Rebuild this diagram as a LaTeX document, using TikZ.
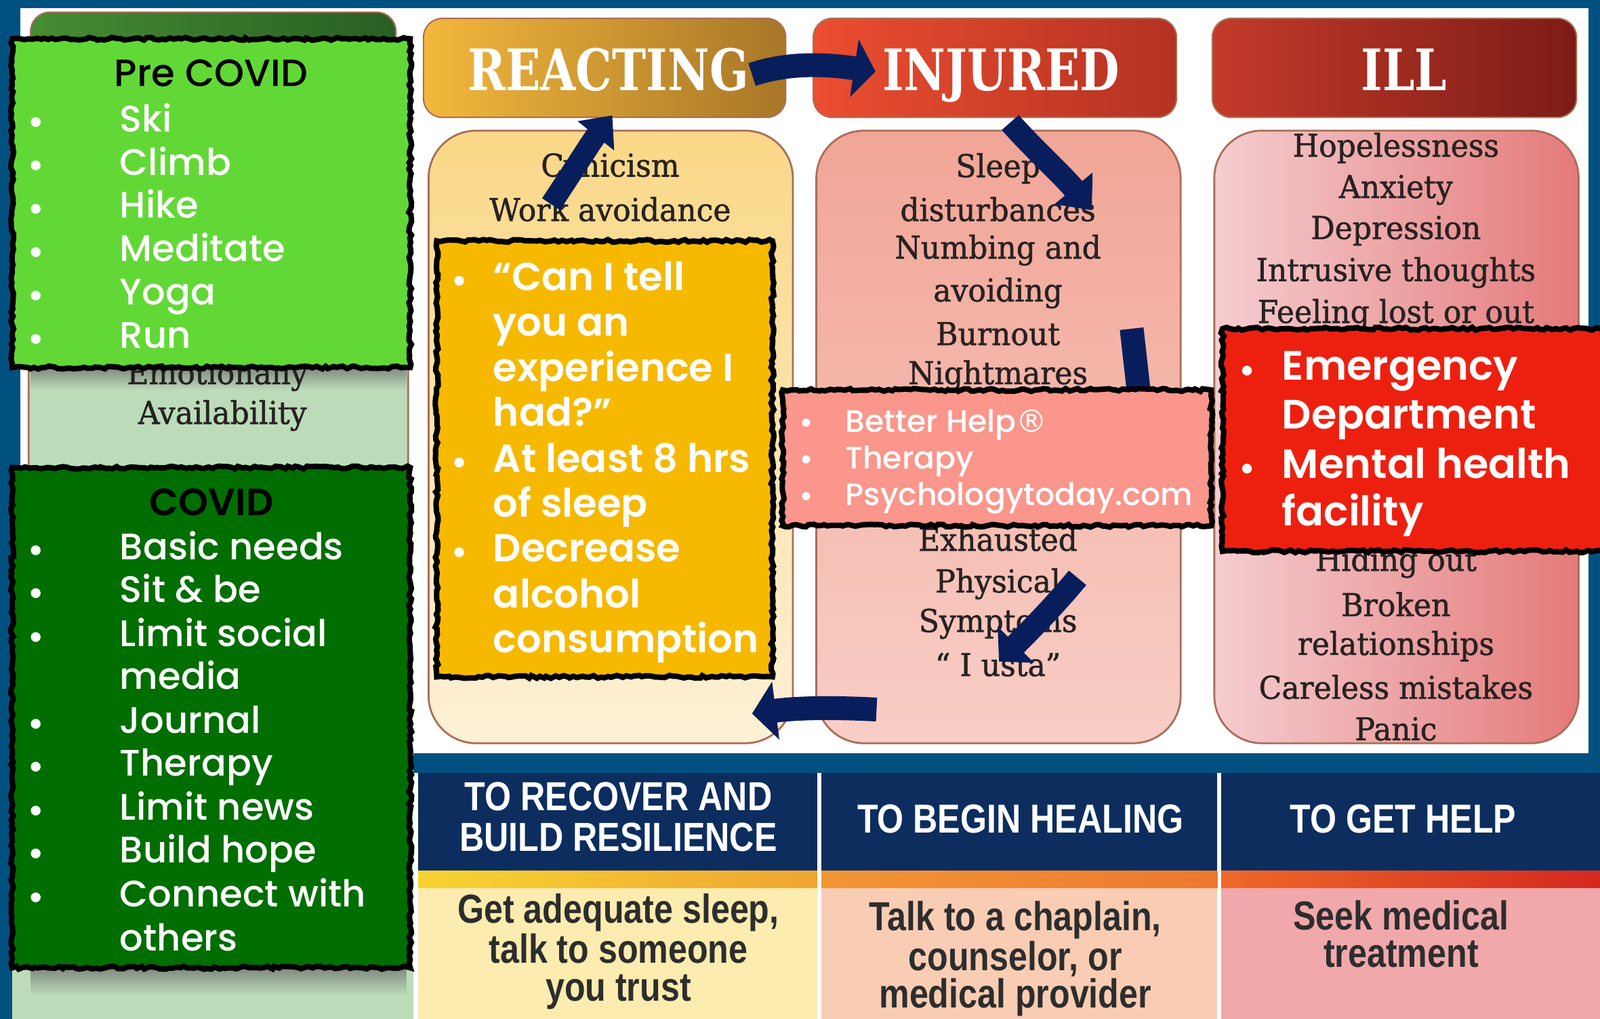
\documentclass[tikz,border=0pt]{standalone}
\usepackage{fontspec}
\setmainfont{Poppins}
\newfontfamily\medfont{Poppins Medium}
\newfontfamily\semifont{Poppins SemiBold}
\newfontfamily\slabfont[FakeStretch=0.8]{DejaVu Serif}
\newfontfamily\symfont[FakeStretch=0.95,FakeBold=1.2]{DejaVu Serif}
\newfontfamily\condfont[FakeStretch=0.84]{Liberation Sans}
\newfontfamily\signfont{DejaVu Sans}
\newcommand\regmark{{\signfont ®}}
\usetikzlibrary{arrows.meta,decorations.pathmorphing,positioning}

\definecolor{frameblue}{RGB}{0,80,128}
\definecolor{sage}{RGB}{188,220,185}
\definecolor{greenheadL}{RGB}{70,140,50}
\definecolor{greenheadR}{RGB}{40,95,35}
\definecolor{precovid}{RGB}{98,216,54}
\definecolor{covid}{RGB}{0,110,0}
\definecolor{goldbox}{RGB}{246,185,0}
\definecolor{salmonbox}{RGB}{250,150,139}
\definecolor{redbox}{RGB}{237,32,16}
\definecolor{reactL}{RGB}{243,184,60}
\definecolor{reactR}{RGB}{168,118,40}
\definecolor{injL}{RGB}{236,78,48}
\definecolor{injR}{RGB}{180,50,34}
\definecolor{illL}{RGB}{196,58,42}
\definecolor{illR}{RGB}{124,28,22}
\definecolor{reactTop}{RGB}{250,216,135}
\definecolor{reactBot}{RGB}{253,240,214}
\definecolor{injTop}{RGB}{241,165,150}
\definecolor{injBot}{RGB}{248,206,198}
\definecolor{illbodyL}{RGB}{245,205,208}
\definecolor{illbodyR}{RGB}{228,122,122}
\definecolor{bodyedge}{RGB}{170,110,90}
\definecolor{navy}{RGB}{8,30,92}
\definecolor{tabnavy}{RGB}{12,45,94}
\definecolor{tabyellow}{RGB}{253,236,175}
\definecolor{tabpeach}{RGB}{248,205,180}
\definecolor{tabpink}{RGB}{241,168,171}
\definecolor{stripA}{RGB}{247,212,50}
\definecolor{stripB}{RGB}{240,165,50}
\definecolor{stripC}{RGB}{243,150,52}
\definecolor{stripD}{RGB}{238,120,48}
\definecolor{stripE}{RGB}{238,105,40}
\definecolor{stripF}{RGB}{212,40,32}
\definecolor{symtext}{RGB}{40,34,34}
\definecolor{tabtext}{RGB}{45,45,45}

\begin{document}
\begin{tikzpicture}[x=0.15057mm,y=-0.15057mm,
  rough/.style={draw=black,line width=2.3pt,decorate,
    decoration={random steps,segment length=1.6pt,amplitude=0.6pt}},
  head/.style={rounded corners=2.8mm,draw=bodyedge,line width=0.6pt},
  body/.style={rounded corners=7mm,draw=bodyedge,line width=0.8pt},
  stage/.style={font=\slabfont\bfseries\fontsize{24}{24}\selectfont,text=white,
    text height=17.5pt,text depth=0pt},
  sym/.style={font=\symfont\fontsize{13.2}{13.2}\selectfont,text=symtext,inner sep=0},
  listtxt/.style={anchor=west,inner sep=0,text height=12pt,text depth=4pt,text=white},
  tabhead/.style={font=\condfont\bfseries\fontsize{17}{17.1}\selectfont,text=white,align=center},
  tabbody/.style={font=\condfont\bfseries\fontsize{17}{15.8}\selectfont,text=tabtext,align=center},
  flow/.style={draw=navy,line width=10pt}]
  \useasboundingbox (0,0) rectangle (1568,998);

  % Frame and panel
  \fill[frameblue] (0,0) rectangle (1568,998);
  \fill[white] (20,8) rectangle (1557,738);

  % Green column (behind the boxes)
  \shade[head,left color=greenheadL,right color=greenheadR] (30,12) rectangle (388,115);
  \filldraw[body,fill=sage] (28,128) rectangle (400,1100);
  \fill[sage] (12,738) rectangle (405,998);
  \shade[top color=black!60,bottom color=sage,opacity=0.7] (30,360) rectangle (398,382);
  \shade[top color=black!60,bottom color=sage,opacity=0.7] (30,948) rectangle (398,975);
  \node[sym] (emo) at (213,368) {Emotionally};
  \node[sym] (avail) at (218,407) {Availability};

  % Stage headers
  \shadedraw[head,left color=reactL,right color=reactR] (415,18) rectangle (770,115);
  \shadedraw[head,left color=injL,right color=injR] (797,18) rectangle (1153,115);
  \shadedraw[head,left color=illL,right color=illR] (1188,18) rectangle (1545,115);
  \node[stage] (reacting) at (596,68) {REACTING};
  \node[stage] (injured) at (981,68) {INJURED};
  \node[stage] (ill) at (1376,68) {ILL};

  % Stage bodies
  \shadedraw[body,top color=reactTop,bottom color=reactBot] (420,128) rectangle (777,728);
  \shadedraw[body,top color=injTop,bottom color=injBot] (800,128) rectangle (1157,728);
  \shadedraw[body,left color=illbodyL,right color=illbodyR] (1190,128) rectangle (1547,728);

  \foreach \t/\y in {Cynicism/165,Work avoidance/205}
    \node[sym] (react-\y) at (598,\y) {\t};
  \foreach \t/\y in {Sleep/165,disturbances/205,Numbing and/245,avoiding/287,
      Burnout/327,Nightmares/368,Exhausted/528,Physical/572,Symptoms/611,
      {“ I usta”}/651}
    \node[sym] (inj-\y) at (978,\y) {\t};
  \foreach \t/\y in {Hopelessness/145,Anxiety/186,Depression/226,
      Intrusive thoughts/267,Feeling lost or out/308,Hiding out/551,
      Broken/592,relationships/633,Careless mistakes/673,Panic/714}
    \node[sym] (ill-\y) at (1368,\y) {\t};

  % Flow arrows
  \coordinate (cyn-tail) at (540,200);
  \coordinate (cyn-tip) at (600,113);
  \draw[flow,line width=9pt,-{Triangle[length=11pt,width=19pt]}]
    (cyn-tail) .. controls (560,170) and (580,138) .. (cyn-tip);
  \coordinate (ri-tail) at (737,73);
  \coordinate (ri-tip) at (858,70);
  \draw[flow,-{Triangle[length=9pt,width=24pt]}]
    (ri-tail) .. controls (770,62) and (805,62) .. (ri-tip);
  \coordinate (is-tail) at (990,120);
  \coordinate (is-tip) at (1070,206);
  \draw[flow,line width=9.5pt,-{Triangle[length=12pt,width=20pt]}]
    (is-tail) .. controls (1012,145) and (1040,170) .. (is-tip);
  \coordinate (bar-top) at (1109,322);
  \coordinate (bar-bot) at (1116,384);
  \draw[flow] (bar-top) -- (bar-bot);
  \coordinate (ps-tail) at (1056,566);
  \coordinate (ps-tip) at (979,648);
  \draw[flow,line width=9.5pt,-{Triangle[length=10pt,width=21pt]}]
    (ps-tail) .. controls (1032,595) and (1005,622) .. (ps-tip);
  \coordinate (back-tail) at (859,695);
  \coordinate (back-tip) at (737,699);
  \draw[flow,-{Triangle[length=10pt,width=24pt]}]
    (back-tail) .. controls (820,693) and (785,693) .. (back-tip);

  % Bottom table
  \fill[white] (405,757) rectangle (1568,998);
  \foreach \xa/\xb/\c/\lc/\rc in {410/801/tabyellow/stripA/stripB,
      805/1193/tabpeach/stripC/stripD,1197/1568/tabpink/stripE/stripF}{
    \fill[tabnavy] (\xa,757) rectangle (\xb,853);
    \shade[left color=\lc,right color=\rc] (\xa,853) rectangle (\xb,870);
    \fill[\c] (\xa,870) rectangle (\xb,998);
  }
  \node[tabhead] (recover) at (606,800) {TO RECOVER AND\\BUILD RESILIENCE};
  \node[tabhead] (healing) at (1000,802) {TO BEGIN HEALING};
  \node[tabhead] (gethelp) at (1375,802) {TO GET HELP};
  \node[tabbody] (sleepadv) at (606,932) {Get adequate sleep,\\talk to someone\\you trust};
  \node[tabbody] (talkadv) at (995,939) {Talk to a chaplain,\\counselor, or\\medical provider};
  \node[tabbody] (seekadv) at (1373,915) {Seek medical\\treatment};

  % Pre COVID box
  \filldraw[rough,fill=precovid] (12,38) rectangle (402,360);
  \node[font=\medfont\fontsize{16}{16}\selectfont] (pre) at (207,72) {Pre COVID};
  \foreach \t [count=\i] in {Ski,Climb,Hike,Meditate,Yoga,Run}{
    \fill[white] (35,{77+42.5*\i}) circle (4.8);
    \node[listtxt,font=\medfont\fontsize{15.5}{15.5}\selectfont] (pre-\i) at (117,{77+42.5*\i}) {\t};
  }

  % COVID box
  \filldraw[rough,fill=covid] (12,458) rectangle (402,948);
  \node[font=\semifont\fontsize{16}{16}\selectfont] (cov) at (207,492) {COVID};
  \foreach \t/\y/\b [count=\i] in {Basic needs/539/1,Sit \& be/581/1,
      Limit social/624/1,media/666/0,Journal/709/1,Therapy/751/1,
      Limit news/794/1,Build hope/836/1,Connect with/879/1,others/922/0}{
    \ifnum\b=1 \fill[white] (35,\y) circle (4.8); \fi
    \node[listtxt,font=\medfont\fontsize{15.5}{15.5}\selectfont] (cov-\i) at (117,\y) {\t};
  }

  % Reacting tips
  \filldraw[rough,fill=goldbox] (428,236) rectangle (757,663);
  \foreach \t/\y/\b [count=\i] in {“Can I tell/275/1,you an/320/0,
      experience I/364/0,had?”/408/0,At least 8 hrs/453/1,of sleep/497/0,
      Decrease/541/1,alcohol/586/0,consumption/630/0}{
    \ifnum\b=1 \fill[white] (450,\y) circle (4.8); \fi
    \node[listtxt,font=\semifont\fontsize{16.4}{16.4}\selectfont] (gold-\i) at (483,\y) {\t};
  }

  % Injured tips
  \filldraw[rough,fill=salmonbox] (767,382) rectangle (1187,515);
  \foreach \t/\y [count=\i] in {Better Help\regmark/414,Therapy/450,Psychologytoday.com/486}{
    \fill[white] (790,\y) circle (4);
    \node[listtxt,font=\medfont\fontsize{13}{13}\selectfont] (salmon-\i) at (828,\y) {\t};
  }

  % Ill tips
  \filldraw[rough,fill=redbox] (1198,322) rectangle (1580,540);
  \foreach \t/\y/\b [count=\i] in {Emergency/363/1,Department/411/0,
      Mental health/459/1,facility/506/0}{
    \ifnum\b=1 \fill[white] (1222,\y) circle (4.8); \fi
    \node[listtxt,font=\semifont\fontsize{17.2}{17.2}\selectfont] (red-\i) at (1256,\y) {\t};
  }
\end{tikzpicture}
\end{document}
